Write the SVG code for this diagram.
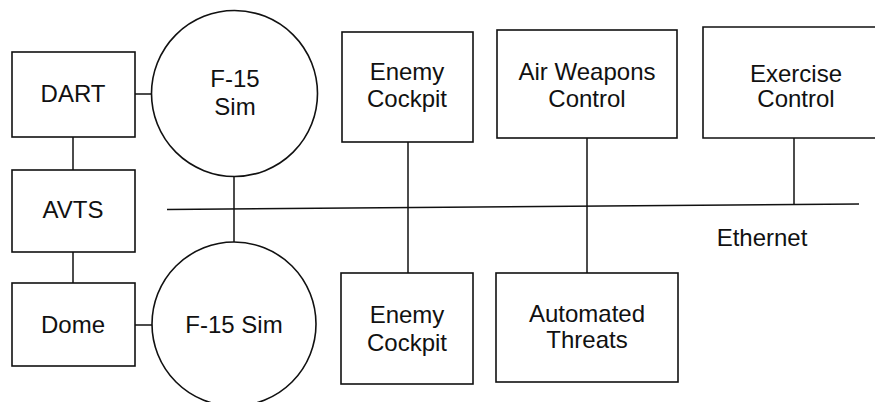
<svg xmlns="http://www.w3.org/2000/svg" width="875" height="402" viewBox="0 0 875 402">
<style>
.box{fill:none;stroke:#111;stroke-width:1.6}
.ln{fill:none;stroke:#111;stroke-width:1.5}
text{font-family:"Liberation Sans",Arial,sans-serif;font-size:24px;fill:#111;text-anchor:middle}
</style>
<rect width="875" height="402" fill="#fff"/>
<g id="connectors">
<line class="ln" x1="135" y1="94" x2="152" y2="94"/>
<line class="ln" x1="135" y1="325" x2="152" y2="325"/>
<line class="ln" x1="73" y1="137" x2="73" y2="170"/>
<line class="ln" x1="73" y1="252" x2="73" y2="283"/>
<line class="ln" x1="234" y1="177" x2="234" y2="242"/>
<line class="ln" x1="167" y1="209.5" x2="859" y2="204"/>
<line class="ln" x1="408" y1="142" x2="408" y2="273"/>
<line class="ln" x1="587" y1="138" x2="587" y2="273"/>
<line class="ln" x1="794" y1="138" x2="794" y2="204.5"/>
</g>
<g id="dart"><rect class="box" x="12" y="52" width="123" height="85"/><text x="73" y="102">DART</text></g>
<g id="avts"><rect class="box" x="12" y="170" width="123" height="82"/><text x="73" y="218">AVTS</text></g>
<g id="dome"><rect class="box" x="12" y="283" width="123" height="83"/><text x="73" y="333">Dome</text></g>
<g id="f15-top"><circle class="box" cx="234.5" cy="93.5" r="83"/><text x="235" y="87">F-15</text><text x="235" y="115">Sim</text></g>
<g id="f15-bottom"><circle class="box" cx="234" cy="324" r="82"/><text x="234" y="333">F-15 Sim</text></g>
<g id="enemy-top"><rect class="box" x="342" y="32" width="131" height="110"/><text x="407" y="80">Enemy</text><text x="407" y="107">Cockpit</text></g>
<g id="enemy-bottom"><rect class="box" x="341" y="273" width="132" height="111"/><text x="407" y="323">Enemy</text><text x="407" y="351">Cockpit</text></g>
<g id="awc"><rect class="box" x="497" y="30" width="180" height="108"/><text x="587" y="80">Air Weapons</text><text x="587" y="107">Control</text></g>
<g id="threats"><rect class="box" x="496" y="273" width="182" height="109"/><text x="587" y="322">Automated</text><text x="587" y="348">Threats</text></g>
<g id="exercise"><path class="box" d="M877 27 H703 V138 H877"/><text x="796" y="82">Exercise</text><text x="796" y="107">Control</text></g>
<g id="ethernet-label"><text x="762" y="246">Ethernet</text></g>
</svg>
